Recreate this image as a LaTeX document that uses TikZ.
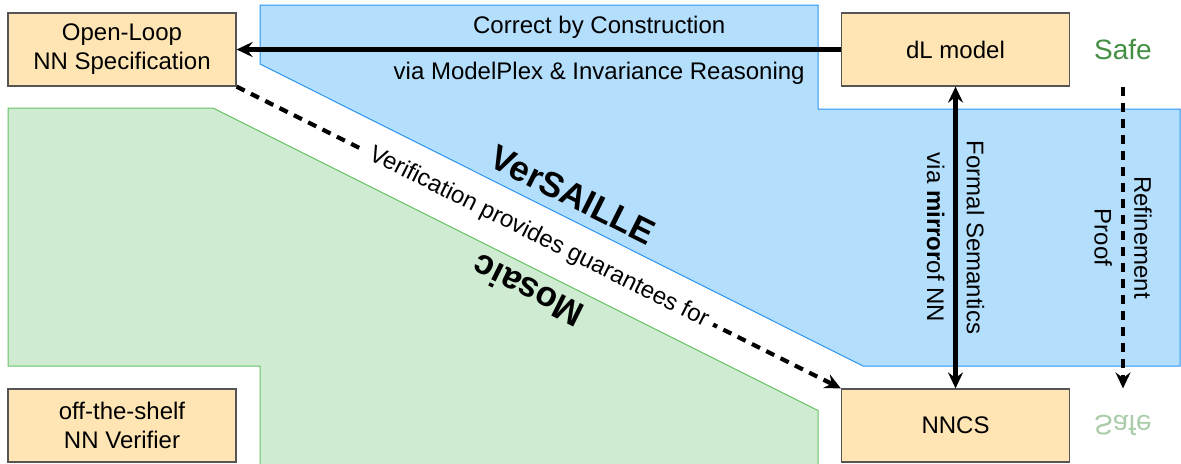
\documentclass[tikz,border=0pt]{standalone}
\usepackage{fontspec}
\setmainfont{Liberation Sans}
\usetikzlibrary{arrows.meta}

\definecolor{boxfill}{HTML}{FFE5B4}
\definecolor{boxline}{HTML}{555555}
\definecolor{versfill}{HTML}{B3DEFC}
\definecolor{versline}{HTML}{2B95F5}
\definecolor{mosfill}{HTML}{CFECD2}
\definecolor{mosline}{HTML}{66C266}
\definecolor{safegreen}{HTML}{458F45}

\tikzset{
  block/.style={draw=boxline, line width=0.6pt, fill=boxfill, minimum width=114pt,
    minimum height=36.5pt, align=center, inner sep=0pt,
    font=\fontsize{12}{14.5}\selectfont},
  link/.style={line width=2.1pt, ->},
  dashlink/.style={link, dash pattern=on 4.5pt off 3.5pt},
  lbl/.style={font=\fontsize{12}{14}\selectfont},
  sidelbl/.style={lbl, midway, rotate=-90, inner sep=4.5pt},
  area/.style={font=\bfseries\fontsize{17.5}{21}\selectfont},
  safelbl/.style={text=safegreen, font=\fontsize{14}{17}\selectfont},
}

\begin{document}
\begin{tikzpicture}[x=0.5pt, y=-0.5pt, >={Stealth[length=8pt,width=7.5pt,inset=2.8pt]}]
  \useasboundingbox (0,0) rectangle (1181,463);

  \begin{scope}
    \clip (0,0) rectangle (1181,463);
    \filldraw[fill=versfill, draw=versline, line width=0.5pt]
      (260,5) -- (818,5) -- (818,109) -- (1180,109) -- (1180,366) -- (863,366) -- (260,64) -- cycle;
    \filldraw[fill=mosfill, draw=mosline, line width=0.5pt]
      (8,108) -- (213,108) -- (818,410.5) -- (818,480) -- (260,480) -- (260,366) -- (8,366) -- cycle;
  \end{scope}

  \path (573,195) node[area, rotate=-26.57] (versaille) {VerSAILLE};
  \path (528,291) node[area, rotate=153.43] (mosaic) {Mosaic};

  \node[block] (open) at (122,49.5) {Open-Loop\\NN Specification};
  \node[block] (dl) at (955.5,49.5) {dL model};
  \node[block] (nncs) at (955.5,425.5) {NNCS};
  \node[block] (verifier) at (122,425.5) {off-the-shelf\\NN Verifier};

  \node[safelbl] (safe) at (1123,49.5) {Safe};
  \path (1123,425) node[safelbl, yscale=-1, text opacity=0.45] (safeflip) {Safe};

  \draw[link] (dl) -- (open)
    node[lbl, pos=0.4, above=1pt] {Correct by Construction}
    node[lbl, pos=0.4, below=2pt] {via ModelPlex \& Invariance Reasoning};
  \draw[link, <->] (dl) -- (nncs)
    node[sidelbl, anchor=south] {Formal Semantics}
    node[sidelbl, anchor=north] {via \textbf{mirror}of NN};
  \draw[dashlink] (safe |- dl.south) -- (safeflip |- nncs.north)
    node[sidelbl, anchor=south] {Refinement}
    node[sidelbl, anchor=north] {Proof};
  \draw[dashlink] (open.south east) -- (nncs.north west)
    node[lbl, midway, sloped, fill=white] {Verification provides guarantees for};
\end{tikzpicture}
\end{document}
